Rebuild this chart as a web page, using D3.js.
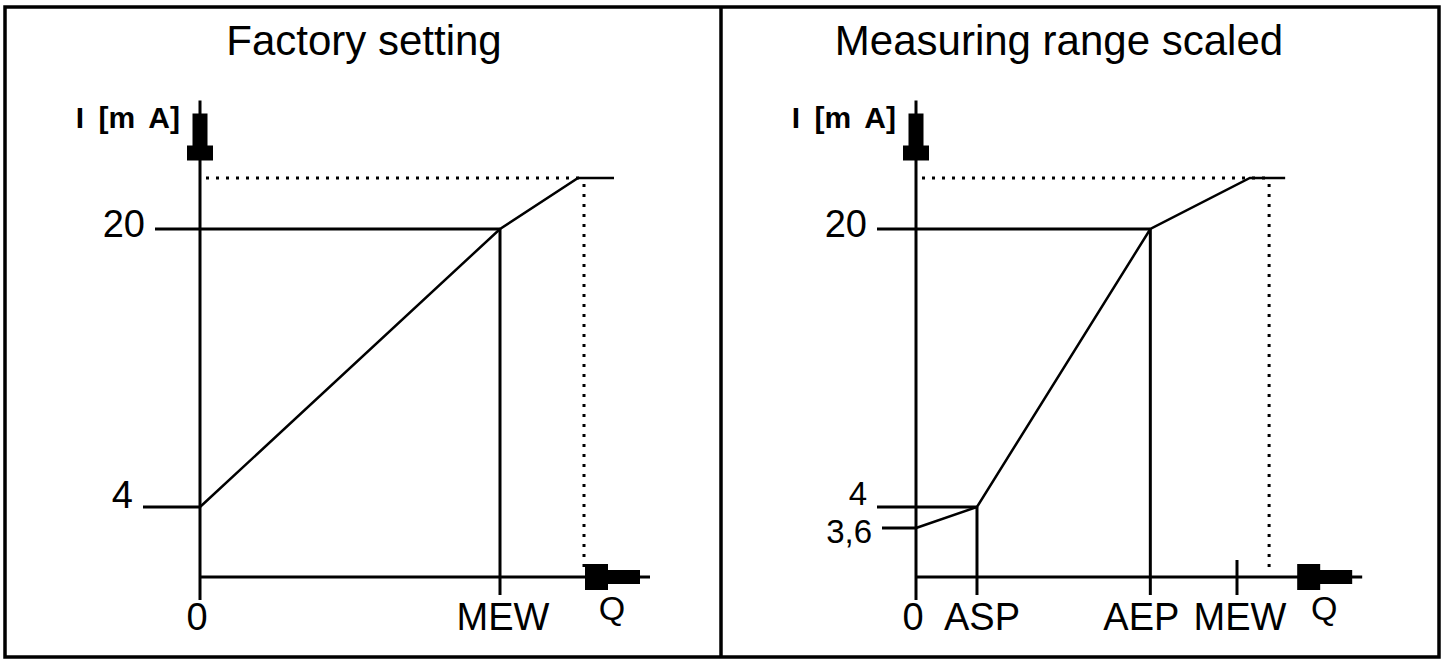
<!DOCTYPE html>
<html lang="en">
<head>
<meta charset="UTF-8">
<title>Analog output: factory setting / measuring range scaled</title>
<script src="https://d3js.org/d3.v7.min.js"></script>
<style>
  body { margin: 0; background: #fff; }
  .title { font-family: "Liberation Sans Narrow", "Liberation Sans", Arial, sans-serif; font-size: 42px; }
  .lbl { font-family: "Liberation Sans", Arial, sans-serif; font-size: 38px; }
  .small { font-size: 33px; }
  .q { font-size: 34px; }
  .unit { font-family: "Liberation Sans", Arial, sans-serif; font-size: 30px; font-weight: bold; word-spacing: 6px; }
  .axis, .ref { stroke: #000; stroke-width: 3; fill: none; }
  .curve { stroke: #000; stroke-width: 2.5; fill: none; }
  .dots { stroke: #000; stroke-width: 3; stroke-dasharray: 3 7; fill: none; }
</style>
</head>
<body>
<svg id="chart"></svg>
<script>
// current axis (mA) - schematic, not to scale
var iBreaks = [0, 3.6, 4, 20, 22.9];
var iTop = 27.3;          // end of the I arrow
var iMax = 22.9;          // dotted upper limit

// panel 1: factory setting
var title1 = "Factory setting";
var curve1 = [[0, 4], [100, 20], [126, 22.9], [138, 22.9]];
var xTicks1 = [0, 100];
var xLabels1 = ["0", "MEW"];
var knees1 = [100];                 // verticals dropped from the curve
var yTicks1 = [4, 20];
var yLabels1 = ["4", "20"];
var refEnds1 = [0, 100];            // where each horizontal ref line stops
var qDots1 = 128;
var qEnd1 = 150;

// panel 2: measuring range scaled
var title2 = "Measuring range scaled";
var curve2 = [[0, 3.6], [19, 4], [73, 20], [104, 22.9], [115, 22.9]];
var xTicks2 = [0, 19, 73, 100];
var xLabels2 = ["0", "ASP", "AEP", "MEW"];
var knees2 = [19, 73];
var yTicks2 = [3.6, 4, 20];
var yLabels2 = ["3,6", "4", "20"];
var refEnds2 = [0, 19, 73];
var qDots2 = 110;
var qEnd2 = 139;

var W = 1446, H = 662;
var svg = d3.select("#chart").attr("width", W).attr("height", H);

// table frame
svg.append("rect").attr("x", 5).attr("y", 7).attr("width", 1434).attr("height", 650)
  .attr("fill", "none").attr("stroke", "#000").attr("stroke-width", 3.5);
svg.append("line").attr("x1", 721).attr("x2", 721).attr("y1", 7).attr("y2", 657)
  .attr("stroke", "#000").attr("stroke-width", 3.5);

var y = d3.scaleLinear().domain(iBreaks).range([577, 528, 507, 229, 178]);

var panels = [
  { title: title1, titleX: 364, xr: [200, 500], curve: curve1, xTicks: xTicks1, xLabels: xLabels1,
    knees: knees1, yTicks: yTicks1, yLabels: yLabels1, refEnds: refEnds1, qDots: qDots1, qEnd: qEnd1,
    tickLen: [57, 45], yLabDy: [1, 8], yLabCls: ["lbl", "lbl"], xLabDx: [-3, 3], extraTicks: [] },
  { title: title2, titleX: 1059, xr: [916, 1237], curve: curve2, xTicks: xTicks2, xLabels: xLabels2,
    knees: knees2, yTicks: yTicks2, yLabels: yLabels2, refEnds: refEnds2, qDots: qDots2, qEnd: qEnd2,
    tickLen: [34, 39, 39], yLabDy: [15, -2, 8], yLabCls: ["lbl small", "lbl small", "lbl"],
    xLabDx: [-3, 5, -9, 3], extraTicks: [100] }
];

panels.forEach(function(p) {
  var x = d3.scaleLinear().domain([0, 100]).range(p.xr);
  var g = svg.append("g");
  var x0 = x(0), y0 = y(0);

  g.append("text").attr("class", "title").attr("x", p.titleX).attr("y", 55)
    .attr("text-anchor", "middle").text(p.title);

  // dotted limits
  g.append("line").attr("class", "dots")
    .attr("x1", x0 + 6).attr("x2", x(p.qDots)).attr("y1", y(iMax)).attr("y2", y(iMax));
  g.append("line").attr("class", "dots")
    .attr("x1", x(p.qDots)).attr("x2", x(p.qDots)).attr("y1", y(iMax) + 6).attr("y2", y0 - 10);

  // horizontal reference lines from the I ticks
  g.selectAll("line.h").data(p.yTicks).enter().append("line").attr("class", "ref")
    .attr("x1", function(d, i) { return x0 - p.tickLen[i]; })
    .attr("x2", function(d, i) { return x(p.refEnds[i]); })
    .attr("y1", function(d) { return y(d); }).attr("y2", function(d) { return y(d); });

  g.selectAll("text.yl").data(p.yLabels).enter().append("text")
    .attr("class", function(d, i) { return p.yLabCls[i]; })
    .attr("text-anchor", "end")
    .attr("x", function(d, i) { return x0 - p.tickLen[i] - 10; })
    .attr("y", function(d, i) { return y(p.yTicks[i]) + p.yLabDy[i]; })
    .text(function(d) { return d; });

  // verticals from the knees down through the Q axis
  var kneeI = {};
  p.curve.forEach(function(c) { kneeI[c[0]] = c[1]; });
  g.selectAll("line.v").data(p.knees).enter().append("line").attr("class", "ref")
    .attr("x1", function(d) { return x(d); }).attr("x2", function(d) { return x(d); })
    .attr("y1", function(d) { return y(kneeI[d]); }).attr("y2", y0 + 18);
  g.selectAll("line.t").data(p.extraTicks).enter().append("line").attr("class", "ref")
    .attr("x1", function(d) { return x(d); }).attr("x2", function(d) { return x(d); })
    .attr("y1", y0 - 17).attr("y2", y0 + 18);

  // axes
  g.append("line").attr("class", "axis").attr("x1", x0).attr("x2", x0)
    .attr("y1", y(iTop)).attr("y2", y0 + 23);
  g.append("line").attr("class", "axis").attr("x1", x0).attr("x2", x(p.qEnd))
    .attr("y1", y0).attr("y2", y0);

  var ty = y(iTop);
  g.append("path").attr("fill", "#000").attr("d",
    "M" + (x0 - 7.5) + "," + (ty + 13) + "h15v32h5.5v15h-26v-15h5.5z");
  var rx = x(p.qEnd);
  g.append("path").attr("fill", "#000").attr("d",
    "M" + (rx - 10) + "," + (y0 - 7) + "v14h-32v6h-23v-26h23v6z");

  // the output curve
  g.append("path").attr("class", "curve").datum(p.curve)
    .attr("d", d3.line().x(function(d) { return x(d[0]); }).y(function(d) { return y(d[1]); }));

  // labels
  g.selectAll("text.xl").data(p.xLabels).enter().append("text").attr("class", "lbl")
    .attr("text-anchor", "middle")
    .attr("x", function(d, i) { return x(p.xTicks[i]) + p.xLabDx[i]; })
    .attr("y", 630).text(function(d) { return d; });
  g.append("text").attr("class", "lbl q").attr("text-anchor", "middle")
    .attr("x", rx - 38).attr("y", 620).text("Q");
  g.append("text").attr("class", "unit").attr("text-anchor", "end")
    .attr("x", x0 - 20).attr("y", 128).text("I [m A]");
});
</script>
</body>
</html>
